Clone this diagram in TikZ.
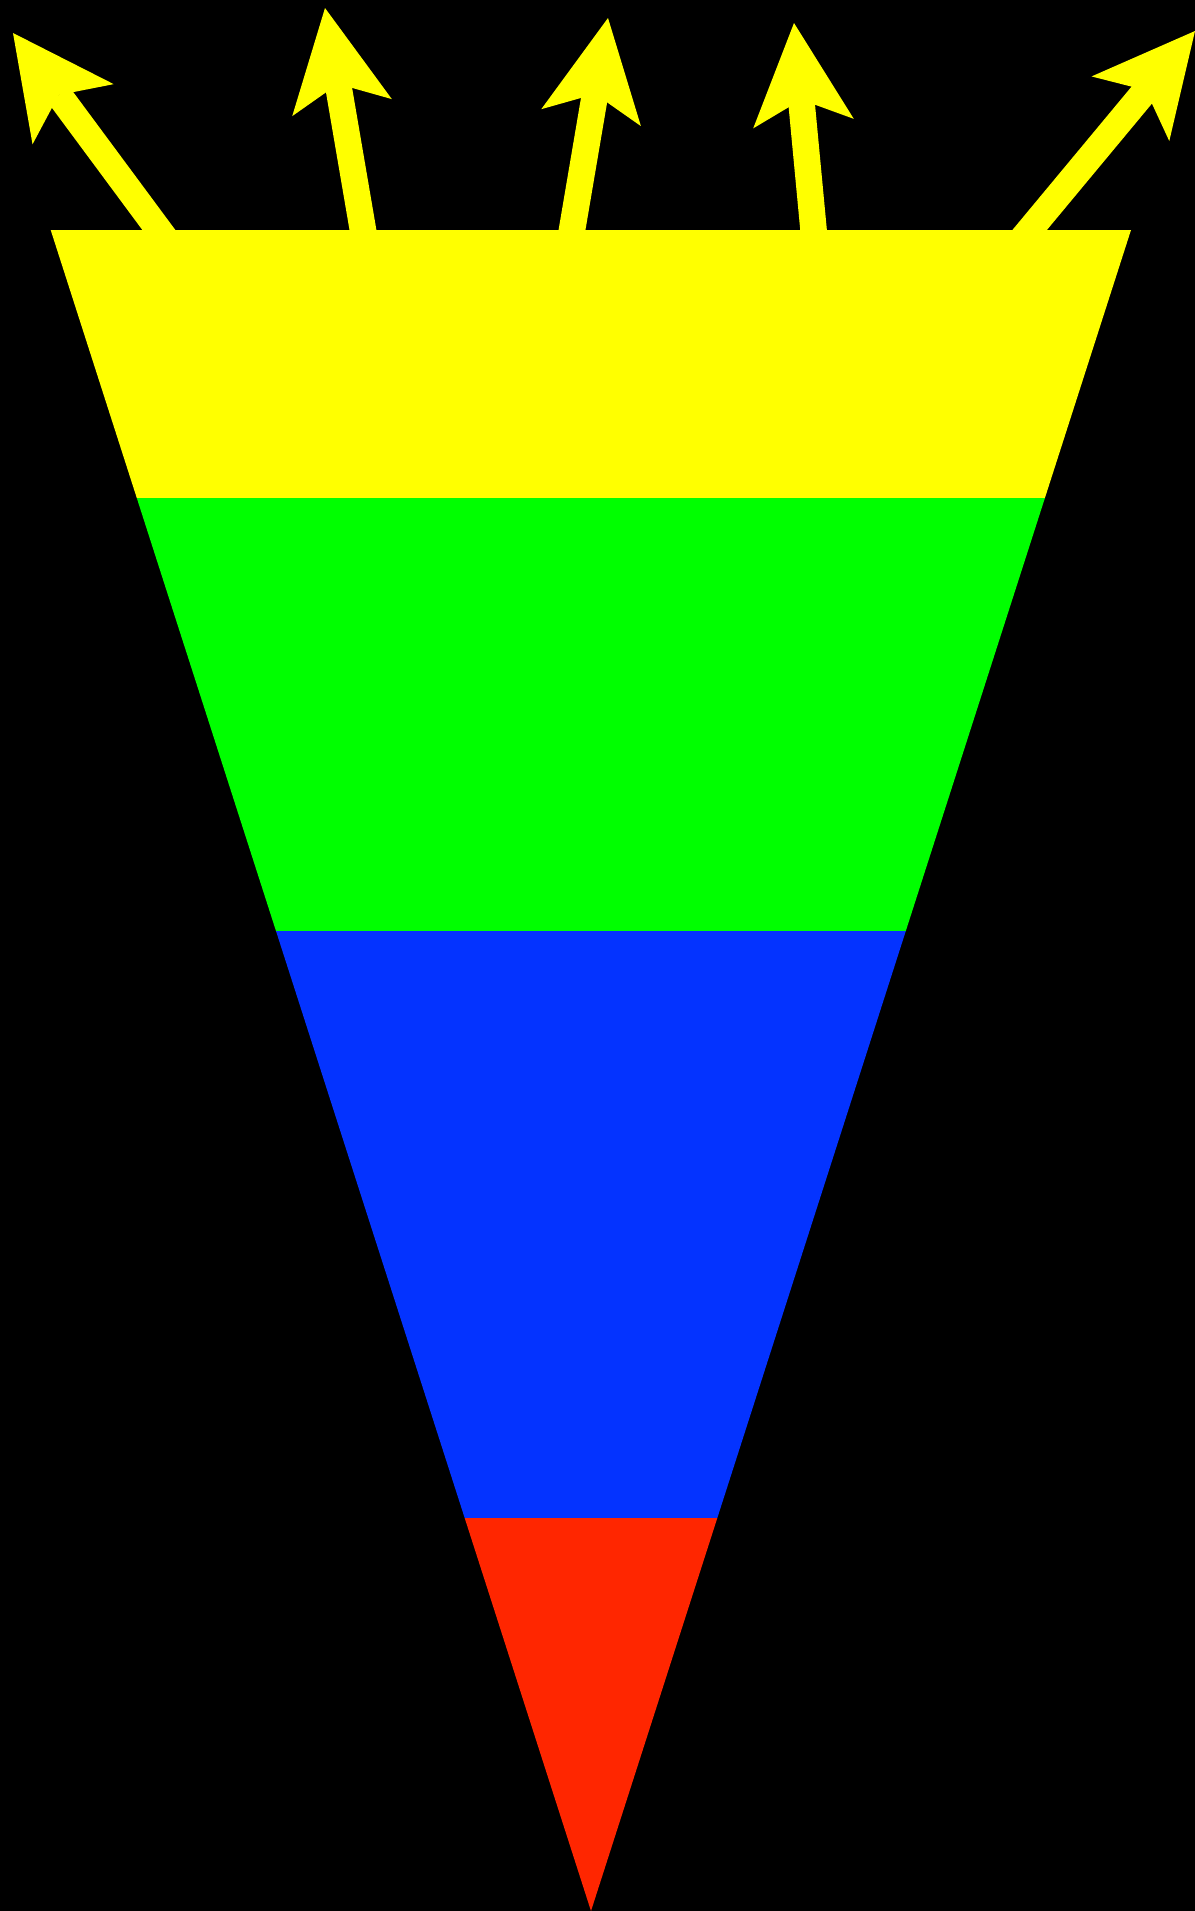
\documentclass[tikz,border=0pt]{standalone}
\usepackage{tikz}
\definecolor{fnyellow}{RGB}{255,255,0}
\definecolor{fngreen}{RGB}{0,255,0}
\definecolor{fnblue}{RGB}{4,51,255}
\definecolor{fnred}{RGB}{255,38,0}
\usetikzlibrary{arrows.meta}

\begin{document}
\begin{tikzpicture}[x=0.01cm,y=-0.01cm,
  ray/.style={draw=fnyellow,line width=0.265cm,
    -{Stealth[length=1.01cm,width=1.01cm,inset=0.24cm,line width'=0pt]}}]
  \useasboundingbox (0,0) rectangle (1195,1911);
  \fill[black] (0,0) rectangle (1195,1911);
  % funnel bands
  \coordinate (tl) at (50.7,230);  \coordinate (tr) at (1131,230);
  \coordinate (l1) at (136.8,498); \coordinate (r1) at (1044.9,498);
  \coordinate (l2) at (276,931);   \coordinate (r2) at (905.8,931);
  \coordinate (l3) at (464.7,1518);\coordinate (r3) at (717.3,1518);
  \coordinate (tip) at (591,1911);
  \fill[fnyellow] (tl) -- (tr) -- (r1) -- (l1) -- cycle;
  \fill[fngreen] (l1) -- (r1) -- (r2) -- (l2) -- cycle;
  \fill[fnblue] (l2) -- (r2) -- (r3) -- (l3) -- cycle;
  \fill[fnred] (l3) -- (r3) -- (tip) -- cycle;
  % arrows out of the top
  \coordinate (s1) at (181.1,260);  \coordinate (e1) at (13,33);
  \coordinate (s2) at (368.1,260);  \coordinate (e2) at (325,8);
  \coordinate (s3) at (566.9,260);  \coordinate (e3) at (608,18);
  \coordinate (s4) at (816.4,260);  \coordinate (e4) at (794,23);
  \coordinate (s5) at (1004.7,260); \coordinate (e5) at (1195,31);
  \foreach \i in {1,...,5}
    \draw[ray] (s\i) -- (e\i);
\end{tikzpicture}
\end{document}
